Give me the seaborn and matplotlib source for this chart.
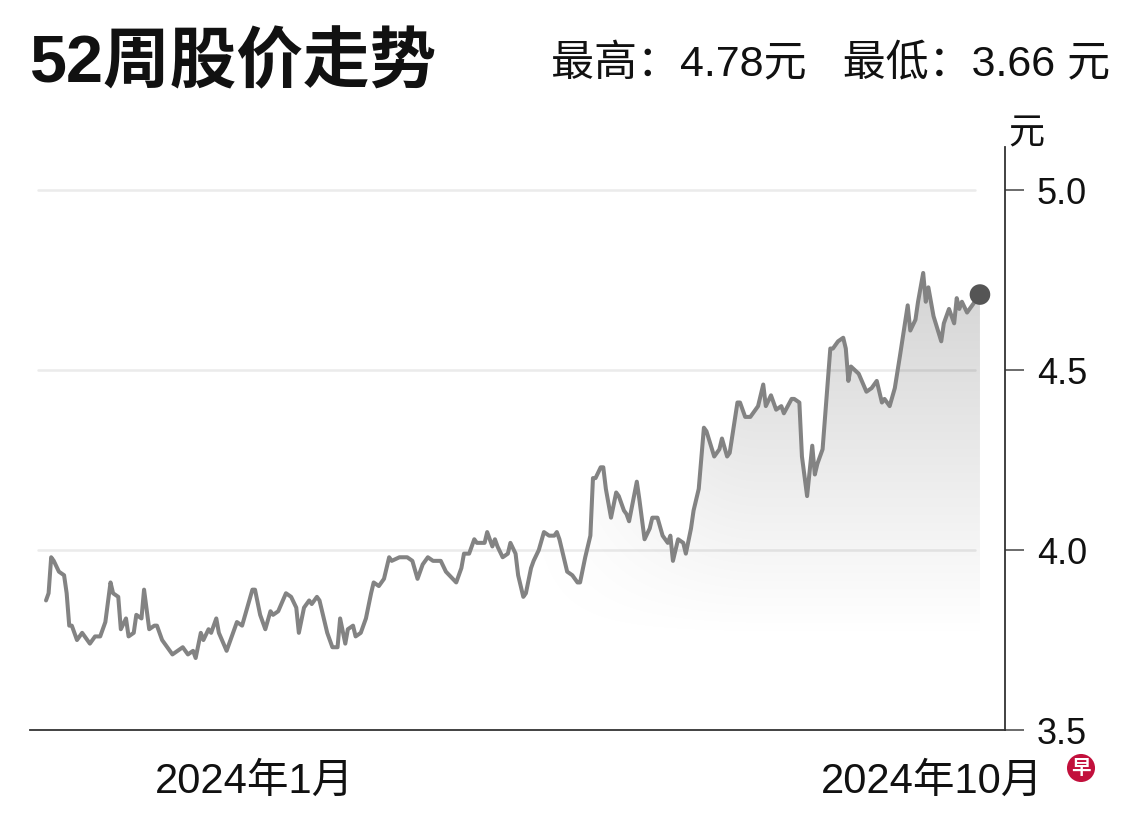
import numpy as np
import pandas as pd
import matplotlib
matplotlib.use('Agg')
import matplotlib.pyplot as plt
import matplotlib.dates as mdates
import matplotlib.transforms as mtransforms
from matplotlib import font_manager
import seaborn as sns

# 52周股价
dates = [
    '2023-10-12', '2023-10-13', '2023-10-14', '2023-10-15', '2023-10-17', '2023-10-19',
    '2023-10-20', '2023-10-21', '2023-10-22', '2023-10-24', '2023-10-26', '2023-10-27',
    '2023-10-29', '2023-10-31', '2023-11-02', '2023-11-04', '2023-11-06', '2023-11-07',
    '2023-11-09', '2023-11-10', '2023-11-12', '2023-11-13', '2023-11-15', '2023-11-16',
    '2023-11-18', '2023-11-19', '2023-11-21', '2023-11-23', '2023-11-24', '2023-11-26',
    '2023-11-29', '2023-11-30', '2023-12-02', '2023-12-04', '2023-12-06', '2023-12-08',
    '2023-12-09', '2023-12-11', '2023-12-12', '2023-12-14', '2023-12-15', '2023-12-17',
    '2023-12-18', '2023-12-21', '2023-12-23', '2023-12-25', '2023-12-27', '2023-12-29',
    '2023-12-31', '2024-01-01', '2024-01-03', '2024-01-05', '2024-01-07', '2024-01-08',
    '2024-01-10', '2024-01-13', '2024-01-15', '2024-01-17', '2024-01-18', '2024-01-20',
    '2024-01-22', '2024-01-23', '2024-01-25', '2024-01-26', '2024-01-28', '2024-01-29',
    '2024-01-31', '2024-02-02', '2024-02-03', '2024-02-05', '2024-02-06', '2024-02-08',
    '2024-02-09', '2024-02-11', '2024-02-13', '2024-02-15', '2024-02-16', '2024-02-18',
    '2024-02-20', '2024-02-22', '2024-02-23', '2024-02-26', '2024-02-29', '2024-03-02',
    '2024-03-04', '2024-03-06', '2024-03-08', '2024-03-10', '2024-03-13', '2024-03-15',
    '2024-03-19', '2024-03-21', '2024-03-22', '2024-03-24', '2024-03-26', '2024-03-27',
    '2024-03-30', '2024-03-31', '2024-04-02', '2024-04-03', '2024-04-04', '2024-04-06',
    '2024-04-08', '2024-04-09', '2024-04-11', '2024-04-12', '2024-04-14', '2024-04-15',
    '2024-04-17', '2024-04-18', '2024-04-20', '2024-04-22', '2024-04-24', '2024-04-26',
    '2024-04-27', '2024-04-28', '2024-05-01', '2024-05-03', '2024-05-05', '2024-05-06',
    '2024-05-08', '2024-05-10', '2024-05-11', '2024-05-12', '2024-05-14', '2024-05-15',
    '2024-05-16', '2024-05-18', '2024-05-20', '2024-05-21', '2024-05-23', '2024-05-24',
    '2024-05-25', '2024-05-28', '2024-05-29', '2024-05-31', '2024-06-02', '2024-06-03',
    '2024-06-05', '2024-06-07', '2024-06-09', '2024-06-10', '2024-06-11', '2024-06-13',
    '2024-06-15', '2024-06-16', '2024-06-18', '2024-06-19', '2024-06-21', '2024-06-23',
    '2024-06-24', '2024-06-27', '2024-06-29', '2024-06-30', '2024-07-02', '2024-07-03',
    '2024-07-06', '2024-07-07', '2024-07-09', '2024-07-11', '2024-07-14', '2024-07-16',
    '2024-07-17', '2024-07-19', '2024-07-21', '2024-07-23', '2024-07-24', '2024-07-27',
    '2024-07-28', '2024-07-30', '2024-07-31', '2024-08-02', '2024-08-04', '2024-08-05',
    '2024-08-06', '2024-08-08', '2024-08-11', '2024-08-12', '2024-08-14', '2024-08-16',
    '2024-08-17', '2024-08-18', '2024-08-19', '2024-08-22', '2024-08-25', '2024-08-27',
    '2024-08-29', '2024-08-31', '2024-09-01', '2024-09-03', '2024-09-05', '2024-09-07',
    '2024-09-10', '2024-09-11', '2024-09-13', '2024-09-14', '2024-09-16', '2024-09-17',
    '2024-09-18', '2024-09-20', '2024-09-23', '2024-09-24', '2024-09-26', '2024-09-28',
    '2024-09-29', '2024-09-30', '2024-10-01', '2024-10-03', '2024-10-05', '2024-10-06',
    '2024-10-08',
]
prices = [
    3.86, 3.88, 3.98, 3.97, 3.94, 3.93, 3.88, 3.79, 3.79, 3.75, 3.77, 3.76,
    3.74, 3.76, 3.76, 3.80, 3.91, 3.88, 3.87, 3.78, 3.81, 3.76, 3.77, 3.82,
    3.81, 3.89, 3.78, 3.79, 3.79, 3.75, 3.72, 3.71, 3.72, 3.73, 3.71, 3.72,
    3.70, 3.77, 3.75, 3.78, 3.77, 3.81, 3.77, 3.72, 3.76, 3.80, 3.79, 3.84,
    3.89, 3.89, 3.82, 3.78, 3.83, 3.82, 3.83, 3.88, 3.87, 3.84, 3.77, 3.84,
    3.86, 3.85, 3.87, 3.86, 3.80, 3.77, 3.73, 3.73, 3.81, 3.74, 3.78, 3.79,
    3.76, 3.77, 3.81, 3.88, 3.91, 3.90, 3.92, 3.98, 3.97, 3.98, 3.98, 3.97,
    3.92, 3.96, 3.98, 3.97, 3.97, 3.94, 3.91, 3.95, 3.99, 3.99, 4.03, 4.02,
    4.02, 4.05, 4.01, 4.03, 4.01, 3.98, 3.99, 4.02, 3.99, 3.93, 3.87, 3.88,
    3.95, 3.97, 4.00, 4.05, 4.04, 4.04, 4.05, 4.03, 3.94, 3.93, 3.91, 3.91,
    3.98, 4.04, 4.20, 4.20, 4.23, 4.23, 4.17, 4.09, 4.16, 4.15, 4.11, 4.10,
    4.08, 4.19, 4.14, 4.03, 4.06, 4.09, 4.09, 4.04, 4.02, 4.04, 3.97, 4.03,
    4.02, 3.99, 4.06, 4.11, 4.17, 4.34, 4.33, 4.26, 4.28, 4.31, 4.26, 4.27,
    4.41, 4.41, 4.37, 4.37, 4.40, 4.46, 4.40, 4.43, 4.39, 4.40, 4.38, 4.42,
    4.42, 4.41, 4.26, 4.15, 4.29, 4.21, 4.24, 4.28, 4.56, 4.56, 4.58, 4.59,
    4.56, 4.47, 4.51, 4.49, 4.44, 4.45, 4.47, 4.41, 4.42, 4.40, 4.45, 4.54,
    4.68, 4.61, 4.64, 4.69, 4.77, 4.69, 4.73, 4.65, 4.58, 4.63, 4.67, 4.63,
    4.70, 4.67, 4.69, 4.66, 4.68, 4.69, 4.71,
]
tick_dates = ['2024-01-01', '2024-10-01']
tick_labels = ['2024年1月', '2024年10月']
y_ticks = [3.5, 4.0, 4.5, 5.0]
grid_levels = [4.0, 4.5, 5.0]
title = '52周股价走势'
high_low = '最高：4.78元   最低：3.66 元'
unit = '元'

sns.set_theme(style='white')
available = {f.name for f in font_manager.fontManager.ttflist}
narrow = 'Liberation Sans Narrow' if 'Liberation Sans Narrow' in available else 'Liberation Sans'
cond_font = [narrow, 'Noto Sans CJK SC', 'DejaVu Sans']
reg_font = ['Liberation Sans', 'Noto Sans CJK SC', 'DejaVu Sans']
plt.rcParams['font.family'] = reg_font

df = pd.DataFrame({'date': pd.to_datetime(dates), 'price': prices})

fig = plt.figure(figsize=(11.4, 8.18), dpi=100)
ax = fig.add_axes([30 / 1140, 88 / 818, 975 / 1140, 583 / 818])

x0 = pd.Timestamp('2023-10-05 19:00')
x1 = pd.Timestamp('2024-10-17 17:00')

# 浅灰网格线
for lv in grid_levels:
    ax.axhline(lv, xmin=0.008, xmax=0.969, color='#ebebeb', lw=1.8, zorder=1)

# 渐变填充
poly = ax.fill_between(df['date'], df['price'], 3.5, color='none', lw=0)
xa = mdates.date2num(df['date'].iloc[0])
xb = mdates.date2num(df['date'].iloc[-1])
nx, ny = 300, 300
gx = np.linspace(0, 1, nx)
gy = np.linspace(3.5, 5.12, ny)
px = 45 + gx * (979 - 45)
fx = np.clip((px - 490) / (760 - 490), 0, 1)
fx = fx * fx * (3 - 2 * fx)
fy = np.clip((gy - 3.75) / (4.75 - 3.75), 0, 1)
alpha = 0.17 * np.outer(fy, fx)
img = np.zeros((ny, nx, 4))
img[..., 3] = alpha
im = ax.imshow(img, extent=[xa, xb, 3.5, 5.12], origin='lower', aspect='auto',
               interpolation='bilinear', zorder=2)
im.set_clip_path(poly.get_paths()[0], transform=ax.transData)

sns.lineplot(data=df, x='date', y='price', ax=ax, color='#838383', linewidth=2.9,
             sort=False, zorder=3)
ax.scatter(df['date'].iloc[-1], df['price'].iloc[-1], s=220, color='#555555',
           zorder=5, edgecolors='none')

ax.set_xlim(x0, x1)
ax.set_ylim(3.5, 5.12)

for s in ['top', 'left']:
    ax.spines[s].set_visible(False)
for s in ['bottom', 'right']:
    ax.spines[s].set_color('#333333')
    ax.spines[s].set_linewidth(1.3)

ax.yaxis.tick_right()
ax.set_yticks(y_ticks)
ax.set_yticklabels([f'{v:.1f}' for v in y_ticks])
ax.tick_params(axis='y', direction='out', length=14, width=1.1, color='#444444',
               pad=9, labelsize=26, labelcolor='#111111')
ax.set_xticks(pd.to_datetime(tick_dates))
ax.set_xticklabels(tick_labels, fontfamily=cond_font)
ax.tick_params(axis='x', direction='out', length=18, width=1.1, color='#444444',
               pad=5, labelsize=30, labelcolor='#111111')
# 10月标签左移, 让出右下角标志
lab = ax.get_xticklabels()[1]
lab.set_transform(lab.get_transform() + mtransforms.ScaledTranslation(-0.3, 0, fig.dpi_scale_trans))
ax.set_xlabel('')
ax.set_ylabel('')
ax.grid(False)

fig.text(30 / 1140, 1 - 65 / 818, title, ha='left', va='center', fontsize=48,
         fontweight='bold', family=cond_font, color='#111111')
fig.text(1110 / 1140, 1 - 65 / 818, high_low, ha='right', va='center', fontsize=31,
         family=cond_font, color='#111111')
fig.text(1026 / 1140, 1 - 134 / 818, unit, ha='center', va='center', fontsize=26,
         family=reg_font, color='#111111')
fig.text(1081 / 1140, 1 - 768 / 818, '早', ha='center', va='center', fontsize=14,
         fontweight='bold', color='white', family=['Noto Sans CJK SC', 'DejaVu Sans'],
         bbox=dict(boxstyle='circle,pad=0.22', fc='#c2103c', ec='none'))

fig.savefig('out.png', dpi=100, facecolor='white')
